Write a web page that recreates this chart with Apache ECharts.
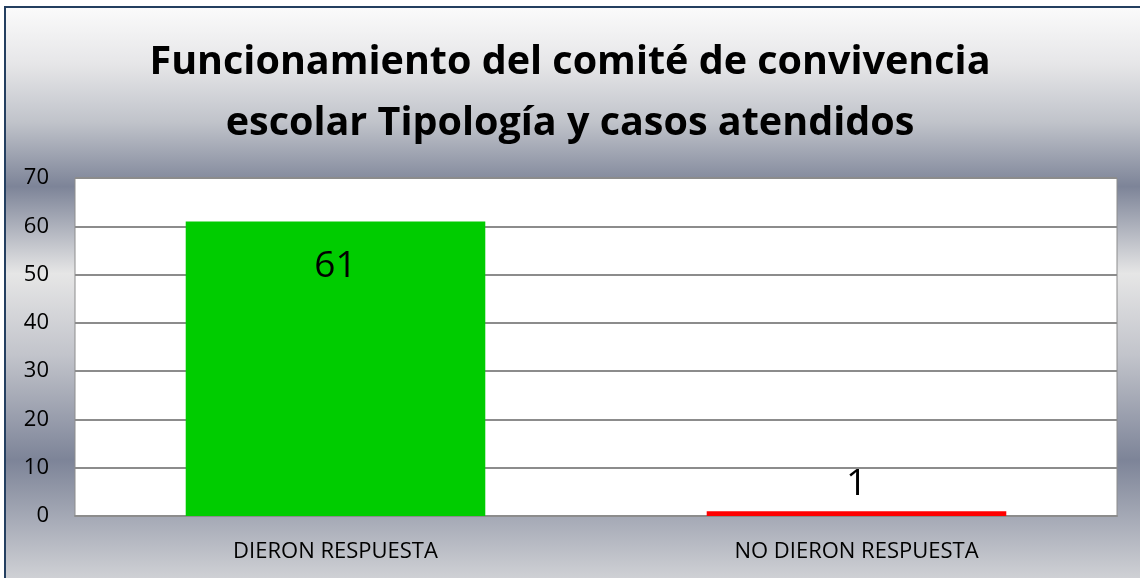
<!DOCTYPE html>
<html>
<head>
<meta charset="utf-8">
<script src="https://cdn.jsdelivr.net/npm/echarts@6/dist/echarts.min.js"></script>
<style>
	html, body { margin: 0; padding: 0; }
	#chart { width: 1140px; height: 578px; }
</style>
</head>
<body>
<div id="chart"></div>
<script>
	// datos del grafico
	var categorias = ['DIERON RESPUESTA', 'NO DIERON RESPUESTA'];
	var valores = [61, 1];
	var colores = ['#00cc00', '#ff0000'];
	var titulo = 'Funcionamiento del comité de convivencia\nescolar Tipología y casos atendidos';

	var chart = echarts.init(document.getElementById('chart'));

	var option = {
		animation: false,
		graphic: [
			{
				type: 'rect',
				z: -10,
				shape: { x: 5, y: 7, width: 1140, height: 580 },
				style: {
					fill: new echarts.graphic.LinearGradient(0, 0, 0, 1, [
						{ offset: 0, color: '#fbfbfb' },
						{ offset: 0.1, color: '#e6e6e8' },
						{ offset: 0.2, color: '#c0c3ca' },
						{ offset: 0.31, color: '#7d8498' },
						{ offset: 0.46, color: '#e6e6e6' },
						{ offset: 0.6, color: '#c2c4cb' },
						{ offset: 0.78, color: '#7d8498' },
						{ offset: 1, color: '#d6d7da' }
					]),
					stroke: '#243f60',
					lineWidth: 2
				}
			}
		],
		title: {
			text: titulo,
			left: 'center',
			top: 27,
			textStyle: {
				fontFamily: 'Open Sans',
				fontWeight: 'bold',
				fontSize: 39.5,
				lineHeight: 61,
				color: '#000'
			}
		},
		grid: {
			left: 75,
			right: 23,
			top: 178,
			bottom: 62,
			show: true,
			backgroundColor: '#ffffff',
			borderColor: '#8c8c8c',
			borderWidth: 1
		},
		xAxis: {
			type: 'category',
			data: categorias,
			axisTick: { show: false },
			axisLine: { lineStyle: { color: '#8c8c8c', width: 2 } },
			axisLabel: {
				margin: 25,
				fontFamily: 'Open Sans',
				fontSize: 22,
				color: '#000'
			}
		},
		yAxis: {
			type: 'value',
			min: 0,
			max: 70,
			interval: 10,
			axisLine: { show: false },
			axisTick: { show: false },
			axisLabel: {
				margin: 26,
				fontFamily: 'Open Sans',
				fontSize: 22,
				color: '#000'
			},
			splitLine: { lineStyle: { color: '#8c8c8c', width: 2 } }
		},
		series: [
			{
				type: 'bar',
				barWidth: '57.5%',
				data: valores.map(function (v, i) {
					return {
						value: v,
						itemStyle: { color: colores[i] },
						label: v > 10 ? { position: 'insideTop', distance: 26 } : { position: 'top', distance: 8 }
					};
				}),
				label: {
					show: true,
					fontFamily: 'Open Sans',
					fontSize: 37,
					color: '#000'
				}
			}
		]
	};

	chart.setOption(option);
</script>
</body>
</html>
